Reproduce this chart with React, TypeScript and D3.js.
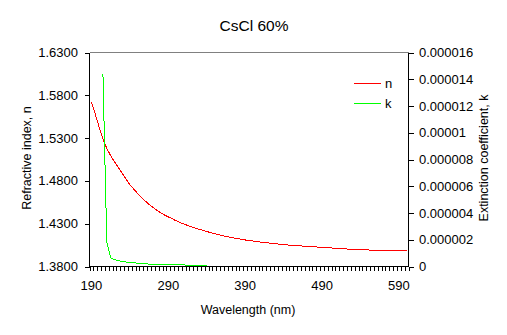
import React from "react";
import * as d3 from "d3";

const wavelengths = [
  190, 195, 200, 205, 210, 215, 220, 225, 230, 235, 240, 245, 250, 255, 260, 265, 270, 275, 280, 285,
  290, 295, 300, 305, 310, 315, 320, 325, 330, 335, 340, 345, 350, 355, 360, 365, 370, 375, 380, 385,
  390, 395, 400, 405, 410, 415, 420, 425, 430, 435, 440, 445, 450, 455, 460, 465, 470, 475, 480, 485,
  490, 495, 500, 505, 510, 515, 520, 525, 530, 535, 540, 545, 550, 555, 560, 565, 570, 575, 580, 585,
  590, 595, 600,
];

const nValues = [
  1.572, 1.558, 1.543, 1.529, 1.518, 1.5095, 1.5025, 1.4955, 1.489, 1.482, 1.4755, 1.4705, 1.4655, 1.461, 1.4565, 1.4525, 1.449, 1.4457, 1.4428, 1.4402,
  1.438, 1.4358, 1.4335, 1.4315, 1.4298, 1.428, 1.4265, 1.425, 1.4235, 1.4222, 1.421, 1.4195, 1.4183, 1.4172, 1.4162, 1.4152, 1.4143, 1.4134, 1.4126, 1.4118,
  1.411, 1.4104, 1.4098, 1.4092, 1.4086, 1.408, 1.4075, 1.407, 1.4065, 1.406, 1.4056, 1.4052, 1.4048, 1.4045, 1.4042, 1.4039, 1.4036, 1.4033, 1.403, 1.4027,
  1.4024, 1.4021, 1.4018, 1.4015, 1.4012, 1.4009, 1.4006, 1.4003, 1.4001, 1.3999, 1.3997, 1.3995, 1.3993, 1.3991, 1.399, 1.3988, 1.3987, 1.3986, 1.3985, 1.3984,
  1.3983, 1.3983, 1.3982,
];

const kWavelengths = [
  205, 210, 215, 220, 225, 230, 235, 240, 245, 250, 255, 260, 265, 270, 275, 280, 285, 290, 295, 300,
  305, 310, 315, 320, 325, 330, 335, 340,
];
const kValues = [
  1.44e-5, 1.85e-6, 6.4e-7, 5.2e-7, 4.3e-7, 3.7e-7, 3.4e-7, 3.0e-7, 2.8e-7, 2.5e-7, 2.2e-7, 2.0e-7, 1.8e-7, 1.6e-7, 1.5e-7, 1.35e-7, 1.3e-7, 1.2e-7, 1.3e-7, 1.5e-7,
  1.4e-7, 1.2e-7, 1.0e-7, 9e-8, 8e-8, 7e-8, 6e-8, 5e-8,
];

const leftTicks = [1.38, 1.43, 1.48, 1.53, 1.58, 1.63];
const rightTicks = [0, 0.000002, 0.000004, 0.000006, 0.000008, 0.00001, 0.000012, 0.000014, 0.000016];
const rightTickLabels = ["0", "0.000002", "0.000004", "0.000006", "0.000008", "0.00001", "0.000012", "0.000014", "0.000016"];
const xLabelWavelengths = [190, 290, 390, 490, 590];

const W = 507;
const H = 335;
const L = 89.5;
const R = 408.5;
const T = 52.5;
const B = 266.5;
const FONT = "'Liberation Sans', Arial, sans-serif";

export default function App() {
  const x = d3.scaleBand<number>().domain(wavelengths).range([L, R]).padding(0);
  const bw = x.bandwidth();
  const cx = (w: number) => (x(w) as number) + bw / 2;
  const yL = d3.scaleLinear().domain([1.38, 1.63]).range([B, T]);
  const yR = d3.scaleLinear().domain([0, 0.000016]).range([B, T]);

  const nLine = d3
    .line<number>()
    .x((_, i) => cx(wavelengths[i]))
    .y((d) => yL(d));
  const kLine = d3
    .line<number>()
    .x((_, i) => cx(kWavelengths[i]))
    .y((d) => yR(d));

  const boundaries = wavelengths.map((w) => x(w) as number).concat([R]);

  return (
    <svg width={W} height={H} style={{ position: "absolute", left: 0, top: 0, background: "#fff" }} fontFamily={FONT}>
      <rect x={0} y={0} width={W} height={H} fill="#fff" />
      <text x={254} y={31} textAnchor="middle" fontSize={15.5} fill="#000">
        CsCl 60%
      </text>

      {/* plot border top */}
      <line x1={L} x2={R} y1={T} y2={T} stroke="#808080" strokeWidth={1} shapeRendering="crispEdges" />

      {/* series */}
      <path d={nLine(nValues) || ""} fill="none" stroke="#ff0000" strokeWidth={1} shapeRendering="crispEdges" />
      <path d={kLine(kValues) || ""} fill="none" stroke="#00ff00" strokeWidth={1} shapeRendering="crispEdges" />

      <g shapeRendering="crispEdges">
        {/* left axis */}
        <line x1={L} x2={L} y1={T} y2={B} stroke="#000" />
        {leftTicks.map((t) => (
          <line key={"lt" + t} x1={L - 5} x2={L} y1={Math.round(yL(t)) + 0.5} y2={Math.round(yL(t)) + 0.5} stroke="#000" />
        ))}
        {/* right axis */}
        <line x1={R} x2={R} y1={T} y2={B} stroke="#000" />
        {rightTicks.map((t, i) => (
          <line key={"rt" + i} x1={R} x2={R + 5} y1={Math.round(yR(t)) + 0.5} y2={Math.round(yR(t)) + 0.5} stroke="#000" />
        ))}
        {/* bottom axis */}
        <line x1={L} x2={R} y1={B} y2={B} stroke="#000" />
        {boundaries.map((bx, i) => (
          <line key={"b" + i} x1={Math.round(bx) + 0.5} x2={Math.round(bx) + 0.5} y1={B} y2={B + 4} stroke="#000" />
        ))}
        {/* legend lines */}
        <line x1={354} x2={381} y1={83.5} y2={83.5} stroke="#ff0000" />
        <line x1={354} x2={381} y1={103.5} y2={103.5} stroke="#00ff00" />
      </g>

      {leftTicks.map((t) => (
        <text key={"l" + t} x={78} y={yL(t)} dy="0.35em" textAnchor="end" fontSize={13} fill="#000">
          {t.toFixed(4)}
        </text>
      ))}
      {rightTicks.map((t, i) => (
        <text key={"r" + i} x={419} y={yR(t)} dy="0.35em" textAnchor="start" fontSize={13} fill="#000">
          {rightTickLabels[i]}
        </text>
      ))}
      {xLabelWavelengths.map((w) => (
        <text key={"x" + w} x={cx(w)} y={290} textAnchor="middle" fontSize={13} fill="#000">
          {w}
        </text>
      ))}

      {/* axis titles */}
      <text x={248} y={314} textAnchor="middle" fontSize={12.5} fill="#000">
        Wavelength (nm)
      </text>
      <text transform="translate(31,158) rotate(-90)" textAnchor="middle" fontSize={12.5} fill="#000">
        Refractive index, n
      </text>
      <text transform="translate(488,158) rotate(-90)" textAnchor="middle" fontSize={12.5} fill="#000">
        Extinction coefficient, k
      </text>

      {/* legend labels */}
      <text x={385} y={83.5} dy="0.35em" fontSize={13} fill="#000">
        n
      </text>
      <text x={385} y={103.5} dy="0.35em" fontSize={13} fill="#000">
        k
      </text>
    </svg>
  );
}
